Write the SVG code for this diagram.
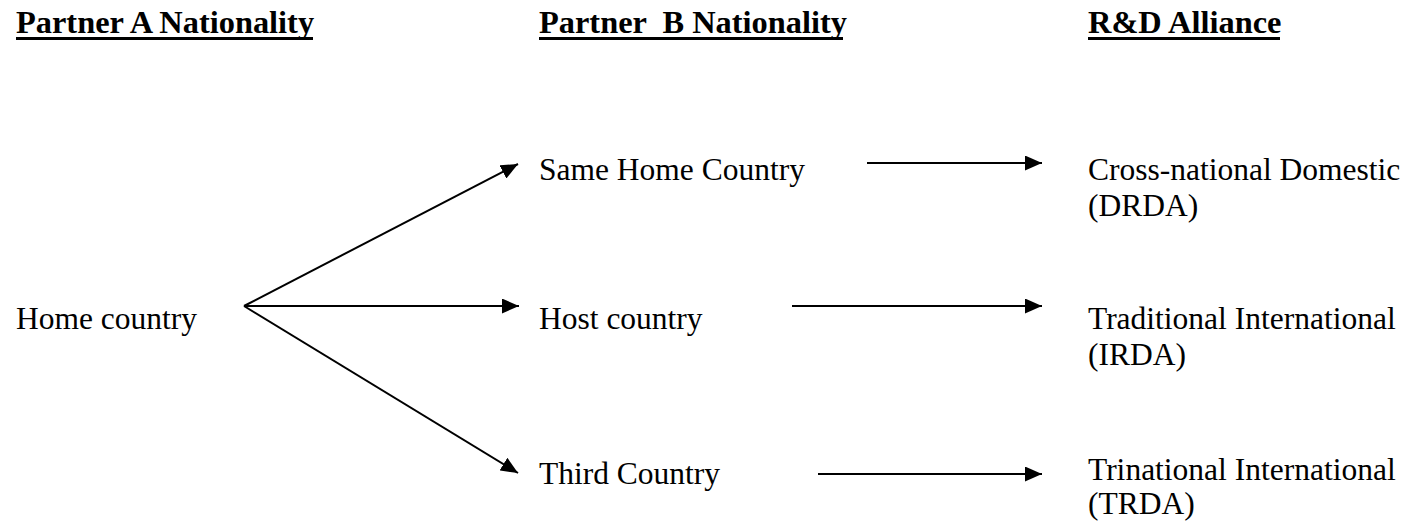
<svg xmlns="http://www.w3.org/2000/svg" width="1412" height="521" viewBox="0 0 1412 521">
  <style>
    .lbl { font-family: "Liberation Serif", "Times New Roman", serif; font-size: 31.5px; fill: #000; }
    .hdr { font-family: "Liberation Serif", "Times New Roman", serif; font-size: 32.4px; font-weight: bold; fill: #000; white-space: pre; }
    .ul { fill: #000; }
    .conn { stroke: #000; stroke-width: 2; fill: none; marker-end: url(#head); }
  </style>
  <defs>
    <marker id="head" markerUnits="userSpaceOnUse" markerWidth="17" markerHeight="15" refX="17" refY="7.5" orient="auto">
      <path d="M0,0 L17,7.5 L0,15 Z" fill="#000"/>
    </marker>
  </defs>

  <rect width="1412" height="521" fill="#fff"/>

  <!-- column headings -->
  <g id="hdr-a">
    <text class="hdr" x="16" y="33">Partner A Nationality</text>
    <rect class="ul" x="16" y="37" width="297" height="3"/>
  </g>
  <g id="hdr-b">
    <text class="hdr" x="539" y="33">Partner  B Nationality</text>
    <rect class="ul" x="539" y="37" width="304" height="3"/>
  </g>
  <g id="hdr-rd">
    <text class="hdr" x="1088" y="33">R&amp;D Alliance</text>
    <rect class="ul" x="1088" y="37" width="192" height="3"/>
  </g>

  <!-- partner A -->
  <g id="home">
    <text class="lbl" x="16" y="329">Home country</text>
  </g>

  <!-- partner B -->
  <g id="same-home">
    <text class="lbl" x="539" y="180">Same Home Country</text>
  </g>
  <g id="host">
    <text class="lbl" x="539" y="329">Host country</text>
  </g>
  <g id="third">
    <text class="lbl" x="539" y="484">Third Country</text>
  </g>

  <!-- alliance types -->
  <g id="drda">
    <text class="lbl" x="1088" y="180">Cross-national Domestic</text>
    <text class="lbl" x="1088" y="216">(DRDA)</text>
  </g>
  <g id="irda">
    <text class="lbl" x="1088" y="329">Traditional International</text>
    <text class="lbl" x="1088" y="365">(IRDA)</text>
  </g>
  <g id="trda">
    <text class="lbl" x="1088" y="480">Trinational International</text>
    <text class="lbl" x="1088" y="514">(TRDA)</text>
  </g>

  <!-- connectors -->
  <g id="connectors">
    <line class="conn" x1="244" y1="306" x2="518" y2="164"/>
    <line class="conn" x1="244" y1="306" x2="519" y2="306"/>
    <line class="conn" x1="244" y1="306" x2="518" y2="473"/>
    <line class="conn" x1="867" y1="163" x2="1042" y2="163"/>
    <line class="conn" x1="792" y1="306" x2="1042" y2="306"/>
    <line class="conn" x1="818" y1="474" x2="1042" y2="474"/>
  </g>
</svg>
